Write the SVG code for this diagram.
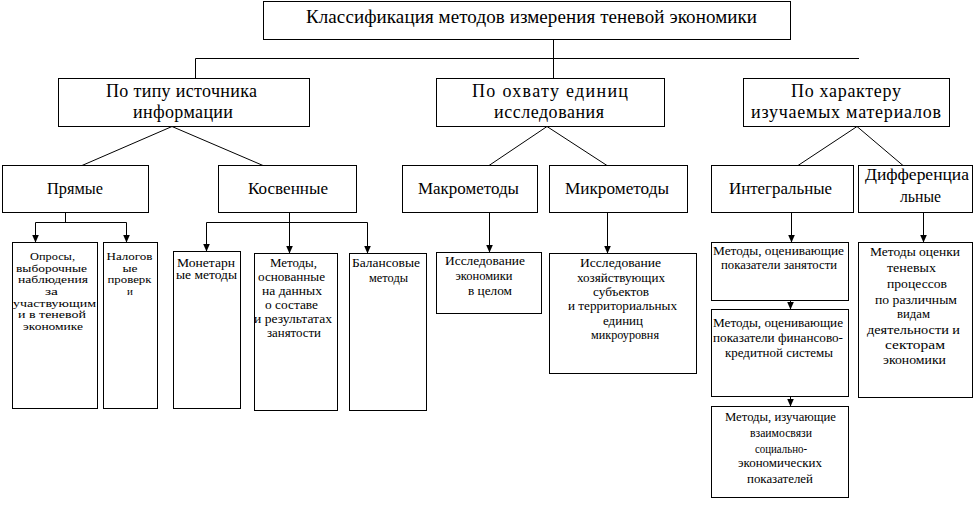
<svg xmlns="http://www.w3.org/2000/svg" width="974" height="506" viewBox="0 0 974 506" font-family="'Liberation Serif', 'DejaVu Serif', serif">
<style>
rect{fill:#fff;stroke:#000;stroke-width:1}
text{font-family:"Liberation Serif","DejaVu Serif",serif;fill:#000;text-anchor:middle}
.t0{font-size:19px}
.t1{font-size:18px}
.t2{font-size:16.5px}
.s12{font-size:11px}
.s13{font-size:12.5px}
.s135{font-size:13px}
.conn path{fill:none;stroke:#000;stroke-width:1}
.conn path.a{marker-end:url(#arr)}
</style>
<defs>
<marker id="arr" viewBox="0 0 8 7" refX="8" refY="3.5" markerWidth="8" markerHeight="7" orient="auto" markerUnits="userSpaceOnUse"><path d="M0,0 L8,3.5 L0,7 Z" fill="#000"/></marker>
</defs>
<rect x="0" y="0" width="974" height="506" style="stroke:none"/>

<g id="connectors" class="conn">
<path d="M553.5,39.5 V82"/>
<path d="M195.5,78.5 V58.5 H859"/>
<path d="M82,165.5 L172,126.5 L263,165.5"/>
<path d="M489,165.5 L547,126.5 L607,165.5"/>
<path d="M798,165.5 L857,126.5 L903,165.5"/>
<path d="M65.5,212.5 V222.5"/>
<path d="M35.5,222.5 H126.5"/>
<path class="a" d="M35.5,222.5 V242.5"/>
<path class="a" d="M126.5,222.5 V242.5"/>
<path class="a" d="M289.5,212.5 V253.5"/>
<path d="M206.5,222.5 H367.5"/>
<path class="a" d="M206.5,222.5 V251.5"/>
<path class="a" d="M367.5,222.5 V253.5"/>
<path class="a" d="M489.5,212.5 V252.5"/>
<path class="a" d="M607.5,212.5 V253.5"/>
<path class="a" d="M791.5,212.5 V242.5"/>
<path class="a" d="M923.5,212.5 V242.5"/>
<path class="a" d="M790.5,300.5 V309.5"/>
<path class="a" d="M790.5,396.5 V406.5"/>
</g>

<g id="root">
<rect x="263.5" y="1.5" width="527" height="38"/>
<text class="t0" x="531.5" y="23" textLength="451" lengthAdjust="spacing">Классификация методов измерения теневой экономики</text>
</g>

<g id="by-source">
<rect x="58.5" y="78.5" width="251" height="48"/>
<text class="t1" x="181.5" y="97" textLength="151" lengthAdjust="spacing">По типу источника</text>
<text class="t1" x="183" y="118" textLength="100" lengthAdjust="spacing">информации</text>
</g>

<g id="by-coverage">
<rect x="436.5" y="78.5" width="228" height="48"/>
<text class="t1" x="550" y="97" textLength="156" lengthAdjust="spacing">По охвату единиц</text>
<text class="t1" x="549" y="118" textLength="110" lengthAdjust="spacing">исследования</text>
</g>

<g id="by-materials">
<rect x="743.5" y="78.5" width="206" height="48"/>
<text class="t1" x="846" y="97" textLength="110" lengthAdjust="spacing">По характеру</text>
<text class="t1" x="846" y="118" textLength="190" lengthAdjust="spacing">изучаемых материалов</text>
</g>

<g id="direct">
<rect x="2.5" y="165.5" width="146" height="47"/>
<text class="t2" x="75" y="194" textLength="56" lengthAdjust="spacingAndGlyphs">Прямые</text>
</g>

<g id="indirect">
<rect x="218.5" y="165.5" width="138" height="47"/>
<text class="t2" x="288" y="194" textLength="80" lengthAdjust="spacingAndGlyphs">Косвенные</text>
</g>

<g id="macro">
<rect x="402.5" y="165.5" width="135" height="47"/>
<text class="t2" x="468.5" y="194" textLength="101" lengthAdjust="spacingAndGlyphs">Макрометоды</text>
</g>

<g id="micro">
<rect x="549.5" y="165.5" width="138" height="47"/>
<text class="t2" x="617" y="194" textLength="104" lengthAdjust="spacingAndGlyphs">Микрометоды</text>
</g>

<g id="integral">
<rect x="711.5" y="165.5" width="142" height="47"/>
<text class="t2" x="780.5" y="194" textLength="103" lengthAdjust="spacingAndGlyphs">Интегральные</text>
</g>

<g id="differential">
<rect x="858.5" y="165.5" width="114" height="47"/>
<text class="t2" x="917" y="180" textLength="104" lengthAdjust="spacingAndGlyphs">Дифференциа</text>
<text class="t2" x="920.5" y="202" textLength="41" lengthAdjust="spacingAndGlyphs">льные</text>
</g>

<g id="surveys">
<rect x="12.5" y="242.5" width="85" height="166"/>
<text class="s12" x="52.5" y="260" textLength="45" lengthAdjust="spacingAndGlyphs">Опросы,</text>
<text class="s12" x="51.5" y="271.7" textLength="71" lengthAdjust="spacingAndGlyphs">выборочные</text>
<text class="s12" x="53" y="283.4" textLength="70" lengthAdjust="spacingAndGlyphs">наблюдения</text>
<text class="s12" x="51.5" y="295" textLength="13" lengthAdjust="spacingAndGlyphs">за</text>
<text class="s12" x="54.5" y="306.7" textLength="83" lengthAdjust="spacingAndGlyphs">участвующим</text>
<text class="s12" x="52" y="318.4" textLength="68" lengthAdjust="spacingAndGlyphs">и в теневой</text>
<text class="s12" x="53" y="330" textLength="60" lengthAdjust="spacingAndGlyphs">экономике</text>
</g>

<g id="tax">
<rect x="103.5" y="242.5" width="54" height="166"/>
<text class="s12" x="129.5" y="260" textLength="46" lengthAdjust="spacingAndGlyphs">Налогов</text>
<text class="s12" x="130" y="271.7" textLength="15" lengthAdjust="spacingAndGlyphs">ые</text>
<text class="s12" x="129.5" y="283.4" textLength="44" lengthAdjust="spacingAndGlyphs">проверк</text>
<text class="s12" x="130" y="295">и</text>
</g>

<g id="monetary">
<rect x="173.5" y="251.5" width="67" height="157"/>
<text class="s13" x="206" y="266.5" textLength="58" lengthAdjust="spacingAndGlyphs">Монетарн</text>
<text class="s13" x="206.5" y="279" textLength="61" lengthAdjust="spacingAndGlyphs">ые методы</text>
</g>

<g id="employment">
<rect x="254.5" y="253.5" width="83" height="157"/>
<text class="s13" x="293.5" y="267" textLength="47" lengthAdjust="spacingAndGlyphs">Методы,</text>
<text class="s13" x="291.5" y="281" textLength="67" lengthAdjust="spacingAndGlyphs">основанные</text>
<text class="s13" x="292" y="295" textLength="60" lengthAdjust="spacingAndGlyphs">на данных</text>
<text class="s13" x="291.5" y="309" textLength="53" lengthAdjust="spacingAndGlyphs">о составе</text>
<text class="s13" x="293" y="323" textLength="78" lengthAdjust="spacingAndGlyphs">и результатах</text>
<text class="s13" x="294" y="337" textLength="54" lengthAdjust="spacingAndGlyphs">занятости</text>
</g>

<g id="balance">
<rect x="349.5" y="253.5" width="77" height="157"/>
<text class="s13" x="386" y="267" textLength="68" lengthAdjust="spacingAndGlyphs">Балансовые</text>
<text class="s13" x="388.5" y="282" textLength="39" lengthAdjust="spacingAndGlyphs">методы</text>
</g>

<g id="economy">
<rect x="436.5" y="252.5" width="105" height="61"/>
<text class="s13" x="485" y="265" textLength="80" lengthAdjust="spacingAndGlyphs">Исследование</text>
<text class="s13" x="484" y="280" textLength="57" lengthAdjust="spacingAndGlyphs">экономики</text>
<text class="s13" x="490" y="295" textLength="44" lengthAdjust="spacingAndGlyphs">в целом</text>
</g>

<g id="entities">
<rect x="549.5" y="253.5" width="147" height="120"/>
<text class="s13" x="620.5" y="267" textLength="81" lengthAdjust="spacingAndGlyphs">Исследование</text>
<text class="s13" x="621" y="282" textLength="88" lengthAdjust="spacingAndGlyphs">хозяйствующих</text>
<text class="s13" x="621" y="296" textLength="56" lengthAdjust="spacingAndGlyphs">субъектов</text>
<text class="s13" x="622.5" y="310" textLength="109" lengthAdjust="spacingAndGlyphs">и территориальных</text>
<text class="s13" x="623" y="325" textLength="40" lengthAdjust="spacingAndGlyphs">единиц</text>
<text class="s13" x="625" y="339" textLength="68" lengthAdjust="spacingAndGlyphs">микроуровня</text>
</g>

<g id="employment-indicators">
<rect x="711.5" y="242.5" width="137" height="58"/>
<text class="s13" x="778.5" y="255" textLength="131" lengthAdjust="spacingAndGlyphs">Методы, оценивающие</text>
<text class="s13" x="779" y="269" textLength="116" lengthAdjust="spacingAndGlyphs">показатели занятости</text>
</g>

<g id="finance-indicators">
<rect x="711.5" y="309.5" width="137" height="87"/>
<text class="s135" x="778" y="327" textLength="130" lengthAdjust="spacingAndGlyphs">Методы, оценивающие</text>
<text class="s135" x="778" y="342" textLength="130" lengthAdjust="spacingAndGlyphs">показатели финансово-</text>
<text class="s135" x="779" y="357" textLength="108" lengthAdjust="spacingAndGlyphs">кредитной системы</text>
</g>

<g id="interrelations">
<rect x="711.5" y="406.5" width="137" height="91"/>
<text class="s135" x="780.5" y="421" textLength="111" lengthAdjust="spacingAndGlyphs">Методы, изучающие</text>
<text class="s135" x="781" y="436.5" textLength="62" lengthAdjust="spacingAndGlyphs">взаимосвязи</text>
<text class="s135" x="781" y="452.5" textLength="52" lengthAdjust="spacingAndGlyphs">социально-</text>
<text class="s135" x="780" y="467" textLength="84" lengthAdjust="spacingAndGlyphs">экономических</text>
<text class="s135" x="780" y="483" textLength="66" lengthAdjust="spacingAndGlyphs">показателей</text>
</g>

<g id="sectoral">
<rect x="858.5" y="242.5" width="114" height="155"/>
<text class="s135" x="915" y="256" textLength="90" lengthAdjust="spacingAndGlyphs">Методы оценки</text>
<text class="s135" x="911.5" y="272" textLength="49" lengthAdjust="spacingAndGlyphs">теневых</text>
<text class="s135" x="917" y="288" textLength="60" lengthAdjust="spacingAndGlyphs">процессов</text>
<text class="s135" x="916" y="304" textLength="82" lengthAdjust="spacingAndGlyphs">по различным</text>
<text class="s135" x="913.5" y="318" textLength="33" lengthAdjust="spacingAndGlyphs">видам</text>
<text class="s135" x="913.5" y="334" textLength="93" lengthAdjust="spacingAndGlyphs">деятельности и</text>
<text class="s135" x="915" y="349" textLength="60" lengthAdjust="spacingAndGlyphs">секторам</text>
<text class="s135" x="914.5" y="364" textLength="63" lengthAdjust="spacingAndGlyphs">экономики</text>
</g>
</svg>
